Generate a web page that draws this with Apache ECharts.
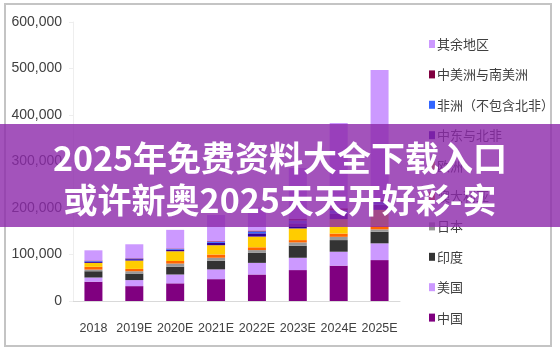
<!DOCTYPE html>
<html>
<head>
<meta charset="utf-8">
<script src="https://cdn.jsdelivr.net/npm/echarts@6/dist/echarts.min.js"></script>
<style>html,body{margin:0;padding:0;background:#fff;}#c{width:560px;height:352px;}</style>
</head>
<body>
<div id="c"></div>
<script>
const categories = ['2018', '2019E', '2020E', '2021E', '2022E', '2023E', '2024E', '2025E'];
const yTicks = [0, 100000, 200000, 300000, 400000, 500000, 600000];
const china     = [41500, 32000, 38000, 47000, 57000, 66500, 76000, 88000];
const usa       = [9000, 13000, 19000, 21000, 25000, 26500, 30000, 36000];
const india     = [13500, 14000, 16500, 18500, 21500, 26000, 25000, 25000];
const japan     = [3500, 5000, 7000, 6500, 6000, 7000, 7000, 5000];
const australia = [6000, 5000, 5500, 7000, 6000, 5000, 7000, 8000];
const europe    = [8500, 18000, 21000, 20000, 23000, 25000, 31000, 34000];
const mena      = [3000, 3000, 3500, 5000, 7000, 11000, 12000, 11000];
const africa    = [1000, 1000, 1500, 2000, 4000, 6000, 7000, 7000];
const latam     = [1000, 1000, 1000, 1500, 2000, 4000, 4500, 4000];
const rest      = [22000, 30000, 40000, 56500, 49500, 109000, 183500, 279000];

const seriesDefs = [
  ['中国', china, '#800080'],
  ['美国', usa, '#cc99ff'],
  ['印度', india, '#333333'],
  ['日本', japan, '#999999'],
  ['澳大利亚', australia, '#ff6600'],
  ['欧洲', europe, '#ffcc00'],
  ['中东与北非', mena, '#330099'],
  ['非洲（不包含北非）', africa, '#3366ff'],
  ['中美洲与南美洲', latam, '#800040'],
  ['其余地区', rest, '#cc99ff']
];
const bannerLines = ['2025年免费资料大全下载入口', '或许新奥2025天天开好彩-实'];

const chart = echarts.init(document.getElementById('c'));
chart.setOption({
  animation: false,
  grid: { left: 73, right: 160, top: 22, bottom: 51 },
  legend: {
    orient: 'vertical',
    left: 424,
    top: 32,
    itemWidth: 6,
    itemHeight: 8,
    itemGap: 16.4,
    icon: 'rect',
    data: seriesDefs.map(d => d[0]).reverse(),
    textStyle: { fontSize: 13, lineHeight: 14, color: '#404040', fontFamily: '"Noto Sans CJK SC", sans-serif', padding: [0, 0, 0, -3] }
  },
  xAxis: {
    type: 'category',
    data: categories,
    axisLine: { lineStyle: { color: '#d9d9d9' } },
    axisTick: { lineStyle: { color: '#d9d9d9' }, length: 4 },
    axisLabel: { interval: 0, margin: 21, fontSize: 12.5, color: '#404040', fontFamily: '"Liberation Sans", Arial, sans-serif' }
  },
  yAxis: {
    type: 'value',
    min: yTicks[0],
    max: yTicks[yTicks.length - 1],
    interval: yTicks[1] - yTicks[0],
    splitLine: { show: false },
    axisLine: { show: true, lineStyle: { color: '#eeeeee' } },
    axisTick: { show: true, length: 4, lineStyle: { color: '#eeeeee' } },
    axisLabel: {
      margin: 11, fontSize: 14, color: '#404040',
      fontFamily: '"Liberation Sans", Arial, sans-serif',
      formatter: v => v.toLocaleString('en-US')
    }
  },
  series: seriesDefs.map(d => ({
    name: d[0], type: 'bar', stack: 'total', data: d[1], barWidth: 18,
    itemStyle: { color: d[2] }
  })),
  graphic: [
    { type: 'rect', z: 90, shape: { x: 5, y: 4, width: 546, height: 342 }, style: { fill: 'none', stroke: '#c4c4c4', lineWidth: 2 } },
    { type: 'rect', z: 100, shape: { x: 0, y: 124, width: 560, height: 103 }, style: { fill: 'rgba(140,40,170,0.8)' } },
    { type: 'text', z: 101, x: 280, y: 179, style: {
        text: bannerLines.join('\n'), align: 'center', verticalAlign: 'middle',
        fontSize: 34, fontWeight: 'bold', lineHeight: 42, fill: '#ffffff',
        fontFamily: '"Noto Sans CJK SC", sans-serif'
    } }
  ]
});
</script>
</body>
</html>
